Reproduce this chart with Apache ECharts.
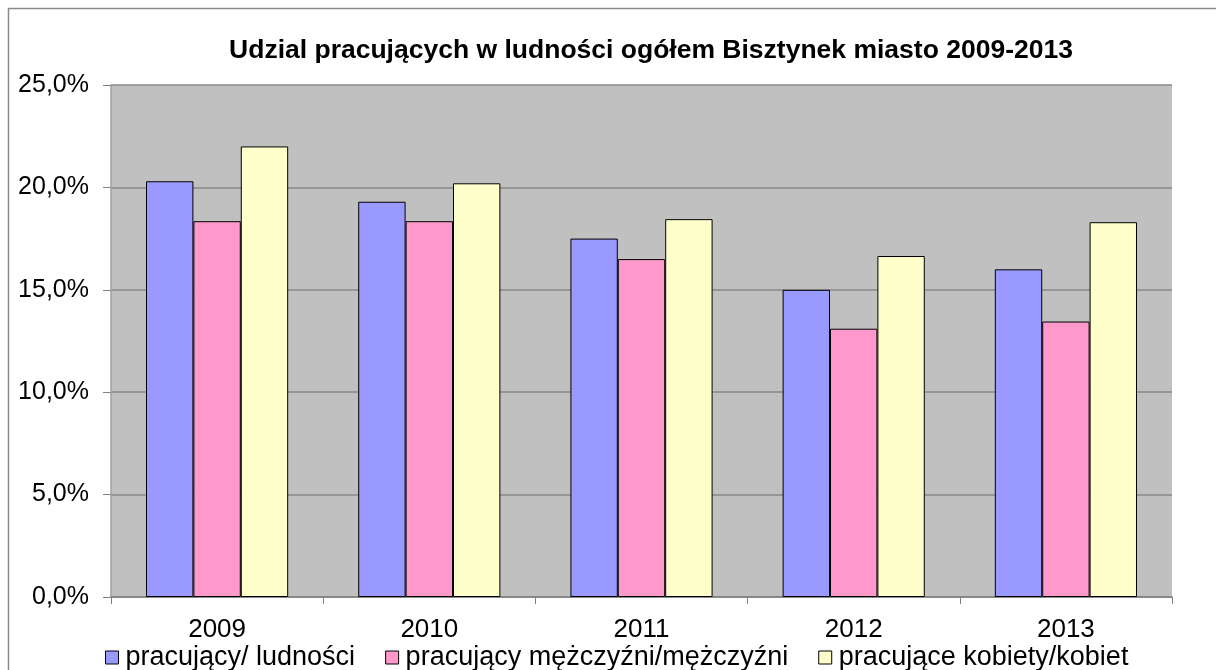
<!DOCTYPE html>
<html>
<head>
<meta charset="utf-8">
<script src="https://cdn.jsdelivr.net/npm/echarts@6/dist/echarts.min.js"></script>
<style>
  html, body { margin: 0; padding: 0; background: #fff; }
  #chart { width: 1216px; height: 670px; }
</style>
</head>
<body>
<div id="chart"></div>
<script>
// dane (w %)
const years = ['2009', '2010', '2011', '2012', '2013'];
const seriesNames = ['pracujący/ ludności', 'pracujący mężczyźni/mężczyźni', 'pracujące kobiety/kobiet'];
const ogolem = [20.3, 19.3, 17.5, 15.0, 16.0];
const mezczyzni = [18.35, 18.35, 16.5, 13.1, 13.45];
const kobiety = [22.0, 20.2, 18.45, 16.65, 18.3];
const colors = ['#9999ff', '#ff99cc', '#ffffcc'];

const fmt = v => v.toFixed(1).replace('.', ',') + '%';
const font = '"Liberation Sans", Arial, sans-serif';

const chart = echarts.init(document.getElementById('chart'));

const mkSeries = (name, data, color) => ({
  name: name,
  type: 'bar',
  data: data,
  barGap: '0%',
  barCategoryGap: '33%',
  itemStyle: { color: color, borderColor: '#000', borderWidth: 1 },
  emphasis: { disabled: true }
});

chart.setOption({
  animation: false,
  backgroundColor: '#fff',
  textStyle: { fontFamily: font },
  graphic: [{
    type: 'rect',
    shape: { x: 8.5, y: 8.5, width: 1220, height: 680 },
    style: { fill: 'none', stroke: '#8a8a8a', lineWidth: 1.5 },
    silent: true
  }],
  title: {
    text: 'Udzial pracujących w ludności ogółem Bisztynek miasto 2009-2013',
    left: 646,
    textAlign: 'center',
    top: 32,
    textStyle: { fontFamily: font, fontSize: 26.5, fontWeight: 'bold', color: '#000' }
  },
  legend: {
    left: 100,
    top: 639,
    itemWidth: 13,
    itemHeight: 13,
    itemGap: 30,
    icon: 'rect',
    data: seriesNames.map((n, i) => ({
      name: n,
      itemStyle: { color: colors[i], borderColor: '#000', borderWidth: 1 }
    })),
    textStyle: { fontFamily: font, fontSize: 27, color: '#000', padding: [0, 0, 0, 2] },
    selectedMode: false
  },
  grid: {
    left: 111,
    right: 44,
    top: 85,
    bottom: 73,
    show: true,
    backgroundColor: '#c0c0c0',
    borderWidth: 0
  },
  xAxis: {
    type: 'category',
    data: years,
    axisLine: { lineStyle: { color: '#808080', width: 1.5 } },
    axisTick: { show: true, length: 7, lineStyle: { color: '#808080' } },
    axisLabel: { fontFamily: font, fontSize: 26, color: '#000', margin: 20 }
  },
  yAxis: {
    type: 'value',
    min: 0,
    max: 25,
    interval: 5,
    axisLine: { show: true, lineStyle: { color: '#a0a0a0', width: 1.5 } },
    axisTick: { show: true, length: 8, lineStyle: { color: '#808080' } },
    axisLabel: { fontFamily: font, fontSize: 25, color: '#000', margin: 22, formatter: fmt },
    splitLine: { lineStyle: { color: '#888888', width: 1.5 } }
  },
  series: [
    mkSeries(seriesNames[0], ogolem, colors[0]),
    mkSeries(seriesNames[1], mezczyzni, colors[1]),
    mkSeries(seriesNames[2], kobiety, colors[2])
  ]
});
</script>
</body>
</html>
